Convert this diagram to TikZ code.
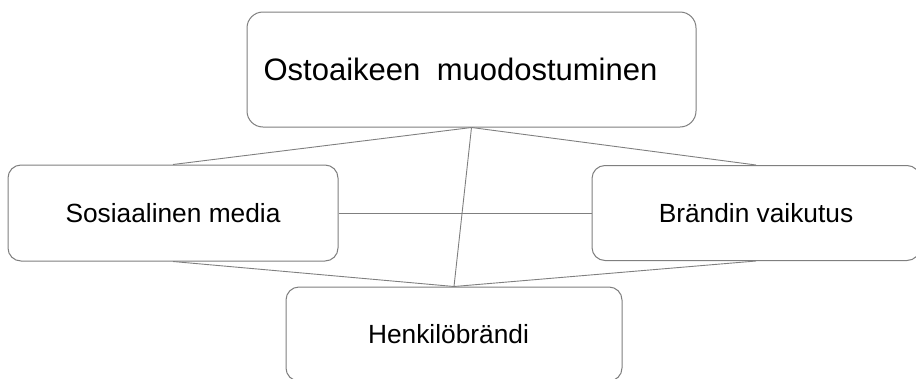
\documentclass[tikz,border=0pt]{standalone}
\usepackage{fontspec}
\setmainfont{Liberation Sans}
\definecolor{edge}{HTML}{7F7F7F}
\tikzset{
  card/.style={draw=edge, line width=1pt, rounded corners=13pt, fill=white, inner sep=0pt, font=\fontsize{26.3}{30}\selectfont},
  link/.style={draw=edge, line width=0.9pt}
}
\begin{document}
\begin{tikzpicture}[x=1pt,y=-1pt]
\useasboundingbox (0,0) rectangle (916,378);
\node[card, rounded corners=16pt, minimum width=449pt, minimum height=115pt, font=\fontsize{31}{36}\selectfont] (top) at (471.5,69.5) {\hspace{-22pt}Ostoaikeen\hspace{0.25em} muodostuminen};
\node[card, minimum width=330pt, minimum height=96pt] (left) at (173,213) {Sosiaalinen media};
\node[card, minimum width=328pt, minimum height=95pt] (right) at (756,213) {Brändin vaikutus};
\node[card, minimum width=336pt, minimum height=94pt] (bot) at (454,334) {\hspace{-11pt}Henkilöbrändi};
\draw[link] (top.south) -- (left.north);
\draw[link] (top.south) -- (right.north);
\draw[link] (top.south) -- (bot.north);
\draw[link] (left.south) -- (bot.north);
\draw[link] (right.south) -- (bot.north);
\draw[link] (left.east) -- (right.west);
\end{tikzpicture}
\end{document}
